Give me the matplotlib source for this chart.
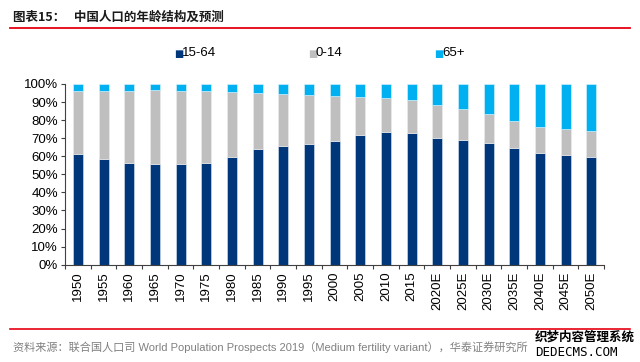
import numpy as np
import matplotlib
matplotlib.use("Agg")
import matplotlib.pyplot as plt
from matplotlib.lines import Line2D
from matplotlib.ticker import FixedLocator, PercentFormatter

plt.rcParams['font.family'] = ['Liberation Sans', 'Noto Sans CJK SC', 'DejaVu Sans']

years = ['1950', '1955', '1960', '1965', '1970', '1975', '1980', '1985', '1990', '1995',
         '2000', '2005', '2010', '2015', '2020E', '2025E', '2030E', '2035E', '2040E',
         '2045E', '2050E']
age_15_64 = [61.4, 58.3, 56.5, 55.5, 55.9, 56.1, 59.4, 63.9, 65.9, 67.0,
             68.3, 72.0, 73.5, 72.6, 70.3, 69.1, 67.4, 64.6, 62.0, 60.9, 59.6]
age_0_14 = [34.5, 37.6, 39.8, 41.2, 40.4, 39.8, 36.1, 31.1, 28.7, 27.1,
            25.0, 20.8, 18.5, 18.3, 17.8, 17.2, 15.9, 14.8, 14.3, 14.3, 14.5]
age_65 = [4.1, 4.1, 3.7, 3.3, 3.7, 4.1, 4.5, 5.0, 5.4, 5.9,
          6.7, 7.2, 8.0, 9.1, 11.9, 13.7, 16.7, 20.6, 23.7, 24.8, 25.9]

dark_blue = '#00377A'
grey = '#BFBFBF'
light_blue = '#00B0F0'
red = '#E60012'

fig = plt.figure(figsize=(6.4, 3.62), dpi=100)
ax = fig.add_axes([0.1016, 0.2688, 0.8422, 0.4992])

x = np.arange(len(years))
w = 0.39
lo = np.array(age_15_64)
mid = np.array(age_0_14)
hi = np.array(age_65)
total = lo + mid + hi
lo, mid, hi = lo / total * 100, mid / total * 100, hi / total * 100

ax.bar(x, lo, w, color=dark_blue, edgecolor='#dce6f2', linewidth=0.4, label='15-64')
ax.bar(x, mid, w, bottom=lo, color=grey, edgecolor='#eeeeee', linewidth=0.4, label='0-14')
ax.bar(x, hi, w, bottom=lo + mid, color=light_blue, edgecolor='#e0f4fc', linewidth=0.4, label='65+')

ax.set_xlim(-0.5, len(years) - 0.5)
ax.set_ylim(0, 100)
ax.yaxis.set_major_locator(FixedLocator(np.arange(0, 101, 10)))
ax.yaxis.set_major_formatter(PercentFormatter(decimals=0))
ax.set_xticks(x)
ax.set_xticklabels(years, rotation=90)
ax.xaxis.set_minor_locator(FixedLocator(np.arange(-0.5, len(years), 1)))
ax.tick_params(axis='x', which='major', length=0, pad=5, labelsize=9.5, colors='black')
ax.tick_params(axis='x', which='minor', length=3, width=0.8, direction='out', color='#404040')
ax.tick_params(axis='y', length=3, width=0.8, direction='out', labelsize=9.5, pad=2, color='#404040')

for s in ['top', 'right']:
    ax.spines[s].set_visible(False)
for s in ['left', 'bottom']:
    ax.spines[s].set_color('#404040')
    ax.spines[s].set_linewidth(0.8)

# legend drawn with separate entries to match spacing
leg_x = [0.272, 0.481, 0.678]
for (lab, col), lx in zip([('15-64', dark_blue), ('0-14', grey), ('65+', light_blue)], leg_x):
    fig.text(lx, 1 - 53.5 / 362, '\u25A0', color=col, fontsize=7, va='center', ha='left',
             family='DejaVu Sans')
    fig.text(lx + 0.0125, 1 - 53.5 / 362, lab, color='black', fontsize=9.5, va='center', ha='left')

# title and rules
fig.text(13 / 640, 1 - 17 / 362, '图表15：   中国人口的年龄结构及预测', fontsize=9,
         fontweight='bold', va='center', ha='left', color='#1a1a1a',
         family=['Noto Sans CJK SC', 'DejaVu Sans'])
fig.add_artist(Line2D([10 / 640, 630 / 640], [1 - 27.5 / 362] * 2, color=red, linewidth=1.3,
                      transform=fig.transFigure))
fig.add_artist(Line2D([10 / 640, 630 / 640], [1 - 328.5 / 362] * 2, color=red, linewidth=1.2,
                      transform=fig.transFigure))
fig.text(13 / 640, 1 - 347 / 362,
         '资料来源：联合国人口司 World Population Prospects 2019（Medium fertility variant），华泰证券研究所',
         fontsize=8, color='#808080', va='center', ha='left')
fig.text(535 / 640, 1 - 337 / 362, '织梦内容管理系统', fontsize=9, color='black',
         va='center', ha='left', fontweight='bold', family=['Noto Sans CJK SC', 'DejaVu Sans'])
fig.text(535 / 640, 1 - 352 / 362, 'DEDECMS.COM', fontsize=9, color='black',
         va='center', ha='left', family=['DejaVu Sans Mono'])

fig.savefig('out.png', dpi=100)
